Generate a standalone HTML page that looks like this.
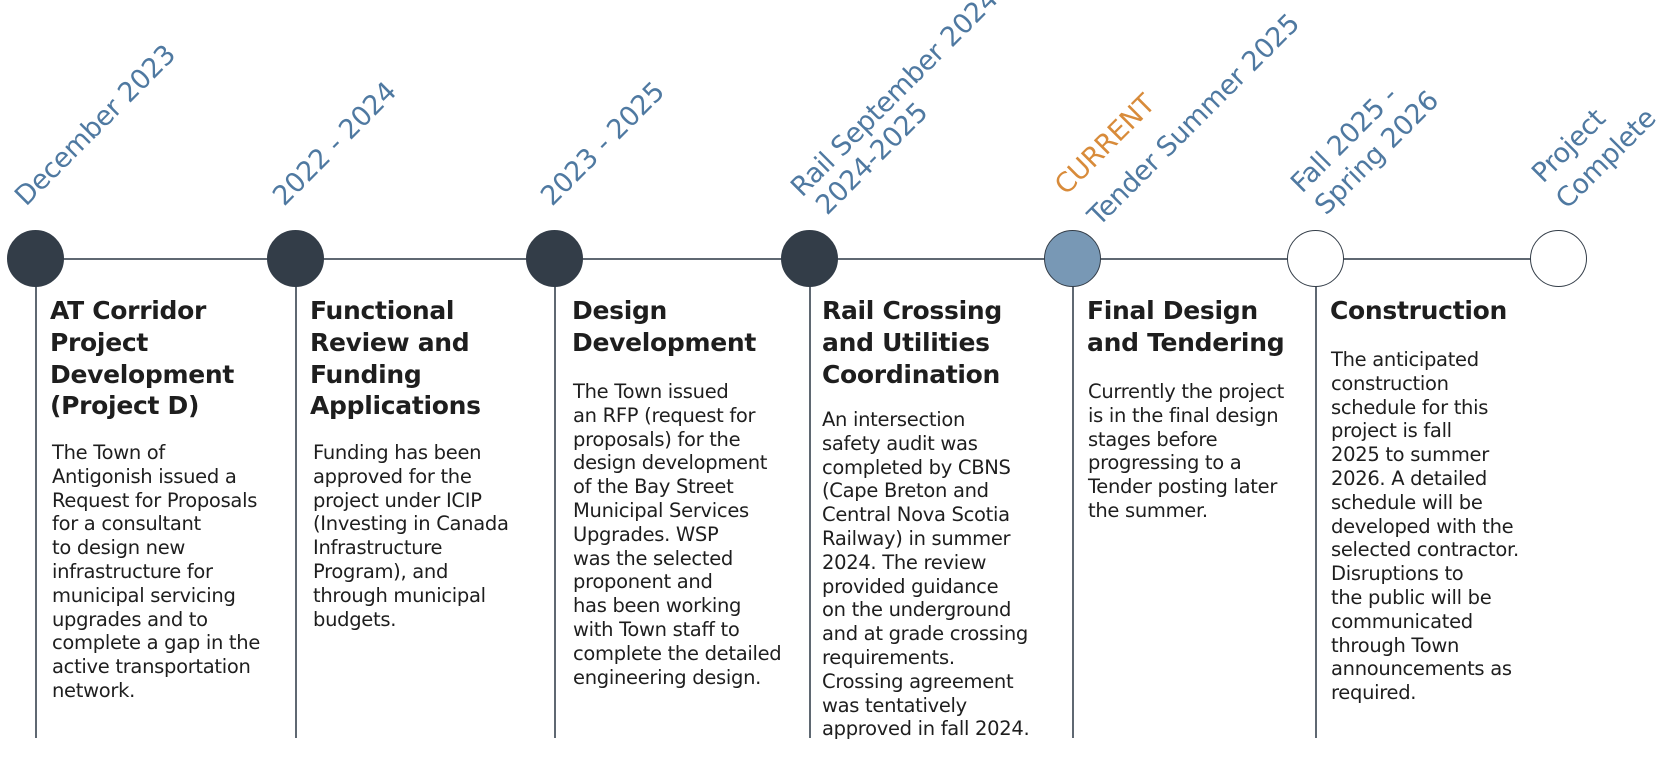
<!DOCTYPE html>
<html><head><meta charset="utf-8"><style>
body{margin:0;width:1668px;height:767px;background:#fff;position:relative;overflow:hidden;font-family:"DejaVu Sans","Liberation Sans",sans-serif;color:#1e1e1e}
.a{position:absolute}
.c{position:absolute;width:57px;height:57px;border-radius:50%;box-sizing:border-box;border:1.5px solid #333d48;background:#333d48;top:230px}
.v{position:absolute;width:1.5px;background:#5f6872;top:259px;height:479px}
.t{position:absolute;font-weight:bold;font-size:25px;line-height:31.8px;top:295px;letter-spacing:-0.3px}
.b{position:absolute;font-size:19.5px;line-height:23.8px;letter-spacing:-0.3px;white-space:nowrap}
.d{position:absolute;font-size:27px;line-height:26px;color:#4f79a1;transform-origin:0 21px;transform:rotate(-45deg);white-space:nowrap;letter-spacing:-0.3px}
</style></head><body>
<div class="a" style="left:35px;top:258px;width:1523px;height:1.5px;background:#5f6872"></div>
<div class="v" style="left:35px"></div>
<div class="v" style="left:295px"></div>
<div class="v" style="left:554px"></div>
<div class="v" style="left:809px"></div>
<div class="v" style="left:1072px"></div>
<div class="v" style="left:1315px"></div>
<div class="c" style="left:7px"></div>
<div class="c" style="left:267px"></div>
<div class="c" style="left:526px"></div>
<div class="c" style="left:781px"></div>
<div class="c" style="left:1044px;background:#7898b5"></div>
<div class="c" style="left:1287px;background:#fff"></div>
<div class="c" style="left:1530px;background:#fff"></div>

<div class="d" style="left:26px;top:186px">December 2023</div>
<div class="d" style="left:284px;top:186px">2022 - 2024</div>
<div class="d" style="left:552px;top:186px">2023 - 2025</div>
<div class="d" style="left:802px;top:177px">Rail September 2024</div>
<div class="d" style="left:827px;top:195px">2024-2025</div>
<div class="d" style="left:1066px;top:175px;color:#d88b3a">CURRENT</div>
<div class="d" style="left:1099px;top:206px">Tender Summer 2025</div>
<div class="d" style="left:1302px;top:173px">Fall 2025 -</div>
<div class="d" style="left:1326px;top:195px">Spring 2026</div>
<div class="d" style="left:1543px;top:163px">Project</div>
<div class="d" style="left:1567px;top:189px">Complete</div>

<div class="t" style="left:50px">AT Corridor<br>Project<br>Development<br>(Project D)</div>
<div class="b" style="left:52px;top:441px">The Town of<br>Antigonish issued a<br>Request for Proposals<br>for a consultant<br>to design new<br>infrastructure for<br>municipal servicing<br>upgrades and to<br>complete a gap in the<br>active transportation<br>network.</div>

<div class="t" style="left:310px">Functional<br>Review and<br>Funding<br>Applications</div>
<div class="b" style="left:313px;top:441px">Funding has been<br>approved for the<br>project under ICIP<br>(Investing in Canada<br>Infrastructure<br>Program), and<br>through municipal<br>budgets.</div>

<div class="t" style="left:572px">Design<br>Development</div>
<div class="b" style="left:573px;top:380px">The Town issued<br>an RFP (request for<br>proposals) for the<br>design development<br>of the Bay Street<br>Municipal Services<br>Upgrades. WSP<br>was the selected<br>proponent and<br>has been working<br>with Town staff to<br>complete the detailed<br>engineering design.</div>

<div class="t" style="left:822px">Rail Crossing<br>and Utilities<br>Coordination</div>
<div class="b" style="left:822px;top:408px">An intersection<br>safety audit was<br>completed by CBNS<br>(Cape Breton and<br>Central Nova Scotia<br>Railway) in summer<br>2024. The review<br>provided guidance<br>on the underground<br>and at grade crossing<br>requirements.<br>Crossing agreement<br>was tentatively<br>approved in fall 2024.</div>

<div class="t" style="left:1087px">Final Design<br>and Tendering</div>
<div class="b" style="left:1088px;top:380px">Currently the project<br>is in the final design<br>stages before<br>progressing to a<br>Tender posting later<br>the summer.</div>

<div class="t" style="left:1330px">Construction</div>
<div class="b" style="left:1331px;top:348px">The anticipated<br>construction<br>schedule for this<br>project is fall<br>2025 to summer<br>2026. A detailed<br>schedule will be<br>developed with the<br>selected contractor.<br>Disruptions to<br>the public will be<br>communicated<br>through Town<br>announcements as<br>required.</div>
</body></html>
